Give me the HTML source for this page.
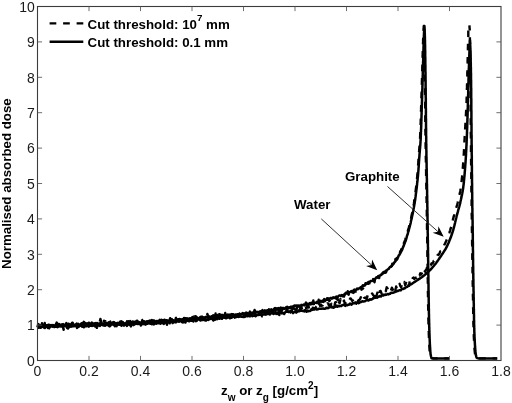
<!DOCTYPE html>
<html>
<head>
<meta charset="utf-8">
<title>Normalised absorbed dose</title>
<style>
html,body{margin:0;padding:0;background:#fff;}
body{width:512px;height:403px;overflow:hidden;font-family:"Liberation Sans",sans-serif;}
svg{display:block;will-change:transform;opacity:0.999;}
text{font-family:"Liberation Sans",sans-serif;fill:#1a1a1a;}
.t{font-size:14px;}
.b{font-size:13.3px;font-weight:bold;fill:#000;}
</style>
</head>
<body>
<svg width="512" height="403" viewBox="0 0 512 403">
<rect width="512" height="403" fill="#fff"/>
<!-- curves -->
<g fill="none" stroke="#000" stroke-linejoin="round" stroke-linecap="butt">
<polyline stroke-width="2.4" stroke-dasharray="6.7 6.8" points="37.5,325.9 38.3,327.8 39.1,327.6 39.9,325.1 40.7,325.4 41.5,325.0 42.3,326.6 43.1,325.6 43.9,326.8 44.7,323.0 45.5,327.9 46.3,325.5 47.1,326.6 47.9,325.4 48.7,325.0 49.5,326.2 50.3,326.7 51.1,325.2 51.9,325.2 52.7,326.4 53.5,324.1 54.3,323.2 55.1,325.9 55.9,324.4 56.7,322.5 57.5,324.1 58.3,324.6 59.1,323.5 59.9,323.0 60.7,325.2 61.5,326.5 62.3,324.8 63.1,324.0 63.9,325.6 64.7,326.1 65.5,324.6 66.3,325.8 67.1,326.5 67.9,324.6 68.7,323.7 69.5,325.4 70.3,325.2 71.1,326.4 71.9,322.9 72.7,323.8 73.5,323.5 74.3,322.2 75.1,324.9 75.9,325.4 76.7,323.6 77.5,326.6 78.3,325.8 79.1,325.5 79.9,325.1 80.7,325.9 81.5,322.5 82.3,325.3 83.1,325.3 83.9,321.8 84.7,324.9 85.5,324.0 86.3,325.4 87.1,323.7 87.9,324.2 88.7,324.7 89.5,322.9 90.3,325.0 91.1,324.0 91.9,324.8 92.7,323.3 93.5,325.6 94.3,324.9 95.1,323.8 95.9,324.9 96.7,325.8 97.5,326.5 98.3,321.6 99.1,325.2 99.9,324.5 100.7,323.7 101.5,322.3 102.3,325.6 103.1,321.9 103.9,324.5 104.7,325.6 105.5,321.3 106.3,323.2 107.1,321.7 107.9,323.9 108.7,325.7 109.5,326.5 110.3,320.9 111.1,322.6 111.9,324.5 112.7,325.7 113.5,324.0 114.3,322.3 115.1,323.7 115.9,323.3 116.7,323.0 117.5,322.2 118.3,323.8 119.1,323.6 119.9,323.0 120.7,322.8 121.5,321.2 122.3,322.3 123.1,324.8 123.9,322.7 124.7,320.9 125.5,324.8 126.3,323.6 127.0,325.9 127.8,322.9 128.6,322.1 129.4,320.6 130.2,324.6 131.0,326.4 131.8,321.4 132.6,321.7 133.4,323.4 134.2,321.3 135.0,322.1 135.8,321.9 136.6,322.7 137.4,324.0 138.2,322.4 139.0,323.6 139.8,321.7 140.6,322.7 141.4,319.1 142.2,320.0 143.0,323.2 143.8,321.2 144.6,322.8 145.4,322.8 146.2,323.8 147.0,323.1 147.8,323.3 148.6,321.6 149.4,320.7 150.2,320.6 151.0,320.9 151.8,320.0 152.6,320.8 153.4,321.4 154.2,321.8 155.0,320.9 155.8,318.6 156.6,321.2 157.4,321.6 158.2,322.8 159.0,322.0 159.8,320.2 160.6,320.0 161.4,323.9 162.2,322.0 163.0,323.5 163.8,323.9 164.6,319.6 165.4,321.3 166.2,321.3 167.0,321.4 167.8,321.4 168.6,320.8 169.4,320.7 170.2,318.2 171.0,320.1 171.8,319.2 172.6,320.4 173.4,319.5 174.2,321.0 175.0,321.2 175.8,320.5 176.6,320.4 177.4,320.0 178.2,319.2 179.0,319.5 179.8,319.0 180.6,320.2 181.4,319.6 182.1,320.4 182.9,317.6 183.7,320.7 184.5,318.3 185.3,318.2 186.1,319.0 186.9,318.4 187.7,319.5 188.5,318.2 189.3,317.4 190.1,317.7 190.9,320.8 191.7,318.9 192.5,317.1 193.3,318.7 194.1,316.4 194.9,321.1 195.7,316.3 196.5,319.1 197.3,319.1 198.1,316.2 198.9,318.7 199.7,319.6 200.5,318.8 201.3,318.4 202.1,319.3 202.9,318.1 203.7,318.3 204.5,317.6 205.3,318.6 206.1,316.2 206.9,318.7 207.7,316.7 208.5,315.8 209.3,317.8 210.1,319.7 210.8,318.6 211.6,316.3 212.4,318.0 213.2,316.3 214.0,316.7 214.8,316.9 215.6,313.4 216.4,316.9 217.2,315.1 218.0,315.5 218.8,314.3 219.6,314.1 220.4,314.9 221.2,317.4 222.0,318.5 222.8,316.0 223.6,317.5 224.4,315.5 225.2,313.0 226.0,315.9 226.8,316.3 227.6,314.9 228.4,315.9 229.2,316.2 230.0,314.1 230.8,313.1 231.6,314.9 232.4,314.8 233.1,314.5 233.9,316.4 234.7,317.4 235.5,314.2 236.3,315.7 237.1,316.0 237.9,315.6 238.7,316.0 239.5,313.8 240.3,315.4 241.1,317.1 241.9,315.3 242.7,313.1 243.5,314.8 244.3,315.7 245.1,314.3 245.9,312.9 246.7,315.9 247.5,311.7 248.3,314.2 249.1,313.4 249.9,311.6 250.7,315.0 251.5,313.6 252.3,311.4 253.0,313.8 253.8,312.3 254.6,310.0 255.4,311.7 256.2,313.0 257.0,313.5 257.8,312.7 258.6,312.4 259.4,312.9 260.2,311.9 261.0,313.8 261.8,312.2 262.6,312.3 263.4,312.6 264.2,310.2 265.0,310.6 265.8,313.8 266.6,311.9 267.4,310.9 268.2,311.7 268.9,310.5 269.7,311.5 270.5,310.0 271.3,311.3 272.1,308.5 272.9,312.6 273.7,309.8 274.5,308.2 275.3,310.0 276.1,309.7 276.9,310.4 277.7,308.4 278.5,310.5 279.3,315.1 280.0,307.9 280.8,310.1 281.6,309.1 282.4,309.7 283.2,306.7 284.0,307.5 284.8,309.7 285.6,308.9 286.4,311.2 287.2,307.7 288.0,308.9 288.8,312.7 289.6,307.3 290.4,307.0 291.1,308.1 291.9,308.0 292.7,309.1 293.5,308.0 294.3,306.6 295.1,307.9 295.9,311.3 296.7,309.2 297.5,303.2 298.3,306.9 299.1,305.7 299.9,307.7 300.7,306.4 301.4,309.3 302.2,307.8 303.0,307.6 303.8,306.4 304.6,306.0 305.4,306.4 306.2,307.6 307.0,306.4 307.8,305.0 308.5,307.1 309.3,305.4 310.1,304.9 310.9,303.7 311.7,303.9 312.5,303.7 313.3,300.5 314.0,305.7 314.8,304.9 315.6,303.6 316.4,305.2 317.2,304.2 317.9,304.0 318.7,299.8 319.5,302.8 320.3,303.7 321.1,305.0 321.8,305.1 322.6,304.3 323.4,300.6 324.2,299.0 324.9,302.6 325.7,301.6 326.5,302.7 327.2,300.9 328.0,301.2 328.8,298.6 329.5,301.0 330.3,299.6 331.1,300.4 331.8,300.3 332.6,299.3 333.4,299.7 334.1,299.0 334.9,299.8 335.7,299.2 336.4,297.5 337.2,297.2 337.9,300.1 338.7,297.4 339.5,298.6 340.2,297.6 341.0,296.0 341.8,295.6 342.5,296.4 343.3,296.4 344.0,296.6 344.8,293.8 345.6,294.5 346.3,294.8 347.1,296.7 347.8,291.3 348.6,294.7 349.3,293.1 350.0,294.1 350.8,292.6 351.5,293.4 352.2,294.6 353.0,292.7 353.7,292.5 354.4,292.1 355.1,290.3 355.8,291.6 356.6,290.3 357.3,289.2 358.0,289.8 358.7,289.1 359.4,290.0 360.1,288.6 360.8,287.6 361.5,289.7 362.2,288.7 362.9,288.6 363.6,287.4 364.3,286.1 365.0,285.4 365.7,285.1 366.3,286.1 367.0,284.8 367.7,282.6 368.4,283.8 369.1,281.8 369.8,283.2 370.4,281.3 371.1,280.8 371.8,281.8 372.5,281.2 373.2,279.1 373.9,281.2 374.5,282.2 375.2,278.1 375.9,280.9 376.6,278.0 377.2,277.7 377.9,277.6 378.5,275.9 379.2,278.0 379.8,276.8 380.5,275.2 381.1,275.2 381.8,273.6 382.4,274.1 383.0,274.8 383.6,272.0 384.2,272.6 384.8,272.5 385.4,272.8 386.0,272.5 386.6,270.5 387.2,269.7 387.8,270.1 388.4,268.9 389.0,268.4 389.6,268.9 390.1,268.7 390.7,267.1 391.2,266.2 391.8,266.1 392.3,263.7 392.8,264.5 393.3,263.1 393.7,264.9 394.2,263.1 394.7,262.0 395.1,261.2 395.5,259.0 395.9,260.4 396.3,260.3 396.7,258.1 397.1,258.3 397.5,257.6 397.9,255.5 398.3,256.3 398.7,255.8 399.1,254.4 399.4,253.6 399.8,253.3 400.2,251.3 400.6,251.5 400.9,251.3 401.3,249.3 401.6,249.8 401.9,248.3 402.2,246.7 402.5,247.0 402.8,245.8 403.1,245.8 403.4,244.2 403.7,244.7 403.9,243.0 404.2,242.8 404.5,241.5 404.7,240.9 405.0,240.9 405.3,239.7 405.5,238.6 405.7,237.5 406.0,237.8 406.2,236.8 406.5,235.6 406.7,235.1 406.9,233.8 407.1,233.0 407.4,232.4 407.6,232.0 407.8,231.2 408.0,230.1 408.2,229.8 408.4,229.1 408.7,228.1 408.9,227.6 409.1,226.4 409.3,225.7 409.5,225.1 409.7,224.2 409.8,223.6 410.0,222.3 410.2,222.2 410.4,220.9 410.6,220.2 410.8,219.2 410.9,218.8 411.1,218.2 411.3,217.4 411.4,216.5 411.6,215.3 411.8,214.7 411.9,214.0 412.1,213.1 412.3,212.6 412.4,211.7 412.6,210.9 412.7,210.2 412.9,209.2 413.0,208.4 413.2,207.7 413.3,207.0 413.5,206.2 413.6,205.4 413.7,204.7 413.9,203.7 414.0,203.0 414.1,202.2 414.2,201.4 414.4,200.6 414.5,199.9 414.6,199.1 414.7,198.3 414.8,197.5 414.9,196.7 415.0,195.9 415.1,195.1 415.2,194.3 415.3,193.5 415.4,192.7 415.5,191.9 415.6,191.1 415.7,190.3 415.8,189.5 415.9,188.7 416.0,187.9 416.1,187.2 416.2,186.4 416.3,185.6 416.4,184.8 416.5,184.0 416.5,183.2 416.6,182.4 416.7,181.6 416.8,180.8 416.9,180.0 417.0,179.2 417.0,178.4 417.1,177.6 417.2,176.8 417.3,176.0 417.3,175.2 417.4,174.4 417.5,173.6 417.6,172.8 417.6,172.0 417.7,171.2 417.8,170.4 417.8,169.6 417.9,168.8 417.9,168.0 418.0,167.2 418.0,166.4 418.1,165.6 418.1,164.9 418.2,164.1 418.3,163.3 418.3,162.5 418.4,161.7 418.4,160.9 418.5,160.1 418.5,159.3 418.6,158.5 418.6,157.7 418.7,156.9 418.7,156.1 418.8,155.3 418.9,154.5 418.9,153.7 419.0,152.9 419.0,152.1 419.1,151.3 419.2,150.5 419.2,149.7 419.3,148.9 419.4,148.1 419.4,147.3 419.5,146.5 419.6,145.7 419.6,144.9 419.7,144.1 419.8,143.3 419.8,142.5 419.9,141.7 419.9,140.9 419.9,140.1 420.0,139.3 420.0,138.5 420.1,137.7 420.1,136.9 420.1,136.1 420.2,135.3 420.2,134.5 420.2,133.7 420.3,132.9 420.3,132.1 420.3,131.3 420.4,130.5 420.4,129.7 420.4,128.9 420.5,128.1 420.5,127.3 420.5,126.5 420.5,125.7 420.6,124.9 420.6,124.1 420.6,123.3 420.7,122.5 420.7,121.7 420.7,120.9 420.7,120.1 420.8,119.3 420.8,118.5 420.8,117.7 420.8,116.9 420.9,116.1 420.9,115.3 420.9,114.5 420.9,113.7 421.0,112.9 421.0,112.1 421.0,111.3 421.0,110.5 421.1,109.7 421.1,108.9 421.1,108.1 421.1,107.3 421.1,106.5 421.2,105.7 421.2,104.9 421.2,104.1 421.2,103.3 421.3,102.5 421.3,101.7 421.3,100.9 421.3,100.1 421.4,99.3 421.4,98.5 421.4,97.7 421.4,96.9 421.5,96.1 421.5,95.3 421.5,94.5 421.5,93.7 421.6,92.9 421.6,92.1 421.6,91.3 421.6,90.5 421.7,89.7 421.7,88.9 421.7,88.1 421.7,87.3 421.8,86.5 421.8,85.7 421.8,84.9 421.8,84.1 421.9,83.3 421.9,82.5 421.9,81.7 421.9,80.9 422.0,80.1 422.0,79.3 422.0,78.5 422.0,77.7 422.0,76.9 422.1,76.2 422.1,75.4 422.1,74.6 422.1,73.8 422.2,73.0 422.2,72.2 422.2,71.4 422.2,70.6 422.3,69.8 422.3,69.0 422.3,68.2 422.3,67.4 422.3,66.6 422.4,65.8 422.4,65.0 422.4,64.2 422.4,63.4 422.5,62.6 422.5,61.8 422.5,61.0 422.5,60.2 422.5,59.4 422.6,58.6 422.6,57.8 422.6,57.0 422.6,56.2 422.6,55.4 422.7,54.6 422.7,53.8 422.7,53.0 422.7,52.2 422.8,51.4 422.8,50.6 422.8,49.8 422.8,49.0 422.9,48.2 422.9,47.4 422.9,46.6 422.9,45.8 423.0,45.0 423.0,44.2 423.0,43.4 423.0,42.6 423.1,41.8 423.1,41.0 423.1,40.2 423.1,39.4 423.2,38.6 423.2,37.8 423.2,37.0 423.2,36.2 423.3,35.4 423.3,34.6 423.3,33.8 423.4,33.0 423.4,32.2 423.4,31.4 423.5,30.6 423.5,29.8 423.6,29.0 423.6,28.2 423.7,27.4 423.7,26.6 423.8,25.9 423.8,26.7 423.9,27.5 423.9,28.3 424.0,29.1 424.0,29.9 424.0,30.7 424.1,31.5 424.1,32.3 424.1,33.1 424.1,33.9 424.2,34.7 424.2,35.5 424.2,36.3 424.2,37.1 424.2,37.9 424.3,38.7 424.3,39.5 424.3,40.3 424.3,41.1 424.3,41.9 424.4,42.7 424.4,43.5 424.4,44.3 424.4,45.1 424.4,45.9 424.4,46.7 424.5,47.5 424.5,48.3 424.5,49.1 424.5,49.9 424.5,50.7 424.5,51.5 424.5,52.3 424.5,53.1 424.6,53.9 424.6,54.7 424.6,55.5 424.6,56.3 424.6,57.1 424.6,57.9 424.6,58.7 424.6,59.5 424.6,60.3 424.7,61.1 424.7,61.9 424.7,62.7 424.7,63.5 424.7,64.3 424.7,65.1 424.7,65.9 424.7,66.7 424.7,67.5 424.7,68.3 424.8,69.1 424.8,69.9 424.8,70.7 424.8,71.5 424.8,72.3 424.8,73.1 424.8,73.9 424.8,74.7 424.8,75.5 424.9,76.3 424.9,77.1 424.9,77.9 424.9,78.7 424.9,79.5 424.9,80.3 424.9,81.1 424.9,81.9 424.9,82.7 424.9,83.5 425.0,84.3 425.0,85.1 425.0,85.9 425.0,86.7 425.0,87.5 425.0,88.3 425.0,89.1 425.0,89.9 425.0,90.7 425.0,91.5 425.0,92.3 425.1,93.1 425.1,93.9 425.1,94.7 425.1,95.5 425.1,96.3 425.1,97.1 425.1,97.9 425.1,98.7 425.1,99.5 425.1,100.3 425.1,101.1 425.1,101.9 425.2,102.7 425.2,103.5 425.2,104.3 425.2,105.1 425.2,105.9 425.2,106.7 425.2,107.5 425.2,108.3 425.2,109.1 425.2,109.9 425.2,110.7 425.2,111.5 425.2,112.3 425.3,113.1 425.3,113.9 425.3,114.7 425.3,115.5 425.3,116.3 425.3,117.1 425.3,117.9 425.3,118.7 425.3,119.5 425.3,120.3 425.3,121.1 425.3,121.9 425.3,122.7 425.4,123.5 425.4,124.3 425.4,125.1 425.4,125.9 425.4,126.7 425.4,127.5 425.4,128.3 425.4,129.1 425.4,129.9 425.4,130.7 425.4,131.5 425.5,132.3 425.5,133.1 425.5,133.9 425.5,134.7 425.5,135.5 425.5,136.3 425.5,137.1 425.5,137.9 425.5,138.7 425.5,139.5 425.6,140.3 425.6,141.1 425.6,141.9 425.6,142.7 425.6,143.5 425.6,144.3 425.6,145.1 425.6,145.9 425.6,146.7 425.7,147.5 425.7,148.3 425.7,149.1 425.7,149.9 425.7,150.7 425.7,151.5 425.7,152.3 425.7,153.1 425.8,153.9 425.8,154.7 425.8,155.5 425.8,156.3 425.8,157.1 425.8,157.9 425.8,158.7 425.9,159.5 425.9,160.3 425.9,161.1 425.9,161.9 425.9,162.7 425.9,163.5 425.9,164.3 426.0,165.1 426.0,165.9 426.0,166.7 426.0,167.5 426.0,168.3 426.0,169.1 426.0,169.9 426.1,170.7 426.1,171.5 426.1,172.3 426.1,173.1 426.1,173.9 426.1,174.7 426.1,175.5 426.2,176.3 426.2,177.1 426.2,177.9 426.2,178.7 426.2,179.5 426.2,180.3 426.2,181.1 426.3,181.9 426.3,182.7 426.3,183.5 426.3,184.3 426.3,185.1 426.3,185.9 426.4,186.7 426.4,187.5 426.4,188.3 426.4,189.1 426.4,189.9 426.4,190.7 426.4,191.5 426.5,192.3 426.5,193.1 426.5,193.9 426.5,194.7 426.5,195.5 426.5,196.3 426.5,197.1 426.5,197.9 426.6,198.7 426.6,199.5 426.6,200.3 426.6,201.1 426.6,201.9 426.6,202.7 426.6,203.5 426.7,204.3 426.7,205.1 426.7,205.9 426.7,206.7 426.7,207.5 426.7,208.3 426.7,209.1 426.7,209.9 426.8,210.7 426.8,211.5 426.8,212.3 426.8,213.1 426.8,213.9 426.8,214.7 426.8,215.5 426.8,216.3 426.9,217.1 426.9,217.9 426.9,218.7 426.9,219.5 426.9,220.3 426.9,221.1 426.9,221.9 426.9,222.7 427.0,223.5 427.0,224.3 427.0,225.1 427.0,225.9 427.0,226.7 427.0,227.5 427.0,228.3 427.0,229.1 427.1,229.9 427.1,230.7 427.1,231.5 427.1,232.3 427.1,233.1 427.1,233.9 427.1,234.7 427.1,235.5 427.1,236.3 427.2,237.1 427.2,237.9 427.2,238.7 427.2,239.5 427.2,240.3 427.2,241.1 427.2,241.9 427.2,242.7 427.3,243.5 427.3,244.3 427.3,245.1 427.3,245.9 427.3,246.7 427.3,247.5 427.3,248.3 427.3,249.1 427.3,249.9 427.4,250.7 427.4,251.5 427.4,252.3 427.4,253.1 427.4,253.9 427.4,254.7 427.4,255.5 427.4,256.3 427.5,257.1 427.5,257.9 427.5,258.7 427.5,259.5 427.5,260.3 427.5,261.1 427.5,261.9 427.5,262.7 427.5,263.5 427.6,264.3 427.6,265.1 427.6,265.9 427.6,266.7 427.6,267.5 427.6,268.3 427.6,269.1 427.6,269.9 427.6,270.7 427.7,271.5 427.7,272.3 427.7,273.1 427.7,273.9 427.7,274.7 427.7,275.5 427.7,276.3 427.7,277.1 427.7,277.9 427.7,278.7 427.8,279.5 427.8,280.3 427.8,281.1 427.8,281.9 427.8,282.7 427.8,283.5 427.8,284.3 427.8,285.1 427.8,285.9 427.9,286.7 427.9,287.5 427.9,288.3 427.9,289.1 427.9,289.9 427.9,290.7 427.9,291.5 427.9,292.3 427.9,293.1 428.0,293.9 428.0,294.7 428.0,295.5 428.0,296.3 428.0,297.1 428.0,297.9 428.0,298.7 428.0,299.5 428.1,300.3 428.1,301.1 428.1,301.9 428.1,302.7 428.1,303.5 428.1,304.3 428.1,305.1 428.1,305.9 428.2,306.7 428.2,307.5 428.2,308.3 428.2,309.1 428.2,309.9 428.2,310.7 428.2,311.5 428.3,312.3 428.3,313.1 428.3,313.9 428.3,314.7 428.3,315.5 428.3,316.3 428.4,317.1 428.4,317.9 428.4,318.7 428.4,319.5 428.4,320.3 428.5,321.1 428.5,321.9 428.5,322.7 428.5,323.5 428.5,324.3 428.6,325.1 428.6,325.9 428.6,326.7 428.6,327.5 428.6,328.3 428.7,329.1 428.7,329.9 428.7,330.7 428.7,331.5 428.8,332.3 428.8,333.1 428.8,333.9 428.8,334.7 428.9,335.5 428.9,336.3 428.9,337.1 429.0,337.9 429.0,338.7 429.0,339.5 429.0,340.3 429.1,341.1 429.1,341.9 429.2,342.7 429.2,343.5 429.2,344.2 429.3,345.0 429.3,345.8 429.4,346.6 429.4,347.4 429.5,348.2 429.5,349.0 429.6,349.8 429.6,350.6 429.7,351.4 429.7,352.2 429.8,353.0 429.9,353.8 430.0,354.6 430.1,355.4 430.3,356.2 430.6,357.1 430.9,357.8 431.4,358.1 432.3,358.4 433.1,358.4 433.9,358.4 434.7,358.4 435.5,358.4 436.3,358.4 437.1,358.4 437.8,358.4 438.6,358.4 439.4,358.4 440.2,358.4 441.0,358.4 441.8,358.4 442.6,358.4 443.4,358.4 444.2,358.4 445.1,358.4 445.9,358.4 446.7,358.4 447.5,358.4 448.3,358.4 448.8,358.4"/>
<polyline stroke-width="2.4" stroke-dasharray="6.6 6.6" points="468.3,30.6 468.3,31.1 468.3,32.0 468.3,32.9 468.3,33.8 468.3,34.7 468.3,35.6 468.3,36.5 468.2,37.4 468.2,38.3 468.2,39.2 468.2,40.1 468.1,41.0 468.1,41.9 468.1,42.8 468.0,43.7 468.0,44.6 468.0,45.5 468.0,46.4 467.9,47.3 467.9,48.2 467.9,49.1 467.9,50.0 467.8,50.9 467.8,51.8 467.8,52.7 467.8,53.6 467.8,54.5 467.7,55.4 467.7,56.3 467.7,57.2 467.7,58.1 467.7,59.0 467.6,59.9 467.6,60.8 467.6,61.7 467.6,62.6 467.6,63.5 467.5,64.4 467.5,65.3 467.5,66.2 467.5,67.1 467.4,68.0 467.4,68.9 467.4,69.8 467.4,70.7 467.4,71.6 467.3,72.5 467.3,73.4 467.3,74.3 467.3,75.2 467.3,76.1 467.2,77.0 467.2,77.9 467.2,78.8 467.2,79.7 467.1,80.6 467.1,81.5 467.1,82.4 467.1,83.3 467.1,84.2 467.0,85.1 467.0,86.0 467.0,86.9 467.0,87.8 466.9,88.7 466.9,89.6 466.9,90.5 466.9,91.4 466.8,92.3 466.8,93.2 466.8,94.1 466.8,95.0 466.7,95.9 466.7,96.8 466.7,97.7 466.6,98.6 466.6,99.5 466.6,100.4 466.6,101.3 466.5,102.2 466.5,103.1 466.4,104.0 466.4,104.9 466.4,105.8 466.3,106.7 466.3,107.6 466.3,108.5 466.2,109.4 466.2,110.3 466.1,111.2 466.1,112.1 466.0,113.0 466.0,113.9 465.9,114.8 465.9,115.7 465.8,116.6 465.8,117.5 465.7,118.4 465.7,119.3 465.6,120.2 465.6,121.1 465.5,122.0 465.5,122.9 465.4,123.8 465.4,124.7 465.3,125.6 465.3,126.5 465.2,127.4 465.2,128.3 465.1,129.2 465.1,130.1 465.0,131.0 465.0,131.9 464.9,132.8 464.9,133.7 464.8,134.6 464.8,135.5 464.7,136.3 464.7,137.2 464.6,138.1 464.6,139.0 464.5,139.9 464.5,140.8 464.4,141.7 464.4,142.6 464.4,143.5 464.3,144.4 464.3,145.3 464.2,146.2 464.2,147.1 464.1,148.0 464.1,148.9 464.0,149.8 464.0,150.7 463.9,151.6 463.9,152.5 463.8,153.4 463.8,154.3 463.7,155.2 463.7,156.1 463.6,157.0 463.5,157.9 463.5,158.8 463.4,159.7 463.4,160.6 463.3,161.5 463.2,162.4 463.2,163.3 463.1,164.2 463.0,165.1 463.0,166.0 462.9,166.9 462.8,167.8 462.8,168.7 462.7,169.6 462.6,170.5 462.5,171.4 462.5,172.3 462.4,173.2 462.3,174.1 462.2,175.0 462.1,175.9 462.1,176.8 462.0,177.7 461.9,178.5 461.8,179.4 461.7,180.3 461.6,181.2 461.5,182.1 461.4,183.0 461.3,183.9 461.2,184.8 461.1,185.7 461.0,186.6 460.8,187.5 460.7,188.4 460.6,189.3 460.4,190.2 460.2,191.0 460.1,191.9 459.9,192.8 459.7,193.7 459.5,194.6 459.3,195.4 459.1,196.3 458.9,197.2 458.7,198.1 458.5,199.0 458.3,199.8 458.1,200.7 457.9,201.6 457.7,202.5 457.5,203.3 457.2,204.2 457.0,205.1 456.8,205.9 456.5,206.8 456.3,207.7 456.0,208.5 455.8,209.4 455.5,210.3 455.3,211.1 455.0,212.0 454.7,212.8 454.5,213.7 454.3,214.6 454.0,215.4 453.8,216.3 453.6,217.2 453.3,218.1 453.1,218.9 452.9,219.8 452.7,220.7 452.5,221.5 452.2,222.4 452.0,223.3 451.8,224.2 451.6,225.0 451.4,225.9 451.2,226.8 450.9,227.7 450.7,228.5 450.4,229.4 450.2,230.3 449.9,231.1 449.6,232.0 449.4,232.8 449.1,233.7 448.8,234.5 448.5,235.4 448.1,236.2 447.8,237.1 447.5,237.9 447.2,238.7 446.8,239.6 446.5,240.4 446.1,241.2 445.7,242.0 445.4,242.9 445.0,243.6 444.6,244.4 444.2,245.1 443.8,246.4 443.3,246.6 442.9,247.3 442.4,248.3 442.0,249.2 441.5,250.4 441.0,250.9 440.4,251.2 439.9,252.3 439.4,253.7 438.9,254.5 438.4,255.0 437.9,254.7 437.4,255.4 436.9,257.0 436.4,256.9 435.9,258.1 435.4,258.8 434.8,259.8 434.3,260.4 433.7,260.7 433.2,262.5 432.6,263.4 432.0,263.1 431.5,263.5 430.9,265.2 430.3,265.0 429.7,266.5 429.1,266.9 428.5,268.1 427.8,266.7 427.2,266.5 426.6,269.5 425.9,269.9 425.3,271.8 424.6,271.5 423.9,273.0 423.2,271.9 422.5,275.1 421.8,273.4 421.0,274.5 420.3,273.2 419.6,275.5 418.8,275.2 418.1,277.1 417.3,275.5 416.6,277.7 415.8,277.7 415.1,278.0 414.3,279.1 413.6,277.6 412.8,278.0 412.0,280.1 411.3,280.9 410.5,279.1 409.8,280.5 409.0,285.8 408.2,281.0 407.5,283.8 406.7,283.0 405.9,283.4 405.2,285.3 404.4,282.0 403.6,283.8 402.8,284.5 402.0,283.1 401.2,287.3 400.4,286.1 399.6,283.8 398.7,286.8 397.9,287.5 397.0,289.3 396.2,286.5 395.3,290.4 394.5,289.6 393.6,286.1 392.8,289.8 391.9,287.7 391.0,290.2 390.2,291.7 389.3,291.0 388.4,291.9 387.6,288.4 386.7,287.3 385.8,291.2 385.0,289.1 384.1,290.5 383.2,291.9 382.4,293.6 381.5,293.4 380.6,290.9 379.8,291.3 378.9,295.1 378.1,291.3 377.2,293.3 376.4,296.4 375.5,292.4 374.6,297.4 373.8,295.8 372.9,294.7 372.1,293.4 371.2,296.2 370.3,296.0 369.5,296.1 368.6,295.0 367.8,294.8 366.9,298.1 366.0,298.2 365.1,297.5 364.3,297.8 363.4,294.9 362.5,296.4 361.6,298.5 360.8,297.2 359.9,299.5 359.0,300.4 358.1,300.2 357.3,299.6 356.4,298.4 355.5,299.4 354.6,298.8 353.7,301.1 352.9,300.4 352.0,300.8 351.1,298.9 350.2,298.4 349.3,300.7 348.4,299.8 347.6,301.8 346.7,301.3 345.8,302.0 344.9,303.7 344.0,300.6 343.1,302.4 342.2,302.2 341.4,303.0 340.5,298.9 339.6,303.2 338.7,301.6 337.8,302.8 336.9,305.5 336.0,302.1 335.1,302.6 334.3,307.3 333.4,303.8 332.5,304.9 331.6,303.7 330.7,304.6 329.8,304.6 328.9,305.3 328.1,303.5 327.2,303.4 326.3,305.2 325.4,305.7 324.5,304.5 323.6,303.9 322.7,305.4 321.9,305.8 321.0,304.6 320.1,305.9 319.2,302.3 318.3,304.8 317.4,305.6 316.5,306.4 315.6,307.7 314.7,308.6 313.8,308.3 313.0,307.7 312.1,308.0 311.2,307.2 310.3,310.5 309.4,310.3 308.5,306.2 307.6,306.8 306.7,307.3 305.8,309.9 304.9,308.2 304.0,309.3 303.1,310.3 302.2,309.3 301.3,307.1 300.4,308.9 299.6,309.9 298.7,307.0 297.8,307.0 296.9,310.2 296.0,311.1 295.1,309.3 294.2,308.3 293.3,308.3 292.4,309.4 291.5,311.0 290.6,311.9 289.7,310.0 288.8,312.0 287.9,311.4 287.0,309.2 286.1,308.1 285.2,308.5 284.3,311.7 283.5,311.4 282.6,310.4 281.7,311.9 280.8,312.6 279.9,311.3 279.0,309.7 278.1,311.7 277.2,313.3 276.3,308.4 275.4,311.1 274.5,310.2 273.6,311.5 272.7,310.0 271.8,310.3 270.9,309.0 270.0,310.2 269.1,313.1 268.3,311.9 267.4,312.3 266.5,313.2 265.6,312.2 264.7,312.4 263.8,314.4 262.9,315.2 262.0,316.4 261.1,313.4 260.2,314.6 259.3,313.3 258.4,315.8 257.5,315.6 256.6,313.9 255.7,312.6 254.8,314.3 253.9,312.5 253.1,313.0 252.2,313.4 251.3,312.5 250.4,313.7 249.5,313.8 248.6,313.6 247.7,313.9 246.8,315.7 245.9,316.0 245.0,316.1 244.1,315.9 243.2,313.7 242.3,316.8 241.4,314.7 240.5,315.7 239.6,315.3 238.7,317.0 237.8,316.3 236.9,316.0 236.0,317.2 235.2,317.6 234.3,318.0 233.4,315.9 232.5,313.3 231.6,314.8 230.7,315.4 229.8,316.2 228.9,314.9 228.0,316.2 227.1,319.4 226.2,316.8 225.3,314.5 224.4,315.3 223.5,316.1 222.6,317.8 221.7,319.4 220.8,315.8 219.9,318.0 219.0,316.6 218.1,316.5 217.2,314.9 216.3,316.0 215.4,314.8 214.5,319.8 213.6,316.9 212.7,316.0 211.8,318.0 210.9,320.0 210.0,319.2 209.1,320.5 208.2,317.6 207.4,314.0 206.5,319.9 205.6,317.8 204.7,319.6 203.8,318.7 202.9,317.4 202.0,318.9 201.1,319.0 200.2,319.1 199.3,320.2 198.4,319.7 197.5,318.2 196.6,316.9 195.7,321.1 194.8,321.2 193.9,320.5 193.0,319.0 192.1,316.5 191.2,320.8 190.3,319.7 189.4,318.8 188.5,317.7 187.6,318.5 186.7,317.5 185.8,319.5 184.9,318.3 184.0,317.9 183.1,320.0 182.2,319.4 181.3,322.1 180.4,320.3 179.5,320.8 178.6,320.1 177.7,320.9 176.8,321.4 175.9,317.8 175.0,322.0 174.1,320.1 173.2,321.6 172.3,321.0 171.5,320.3 170.6,320.3 169.7,323.3 168.8,321.1 167.9,319.3 167.0,324.9 166.1,322.2 165.2,319.3 164.3,321.4 163.4,321.9 162.5,320.7 161.6,319.7 160.7,322.2 159.8,323.3 158.9,323.4 158.0,321.7 157.1,321.7 156.2,322.1 155.3,322.3 154.4,323.2 153.5,324.3 152.6,323.0 151.7,320.9 150.8,323.6 149.9,321.5 149.0,324.3 148.1,321.7 147.2,321.5 146.3,324.2 145.4,325.2 144.5,322.6 143.6,321.8 142.7,323.4 141.8,323.4 140.9,325.6 140.0,323.1 139.1,325.7 138.2,322.4 137.3,320.6 136.4,320.9 135.5,323.1 134.6,322.4 133.7,324.0 132.8,322.4 131.9,322.9 131.0,323.3 130.1,322.8 129.2,324.9 128.3,321.1 127.4,322.3 126.5,324.0 125.6,322.8 124.7,321.5 123.8,322.5 122.9,322.2 122.0,323.0 121.1,323.3 120.2,321.6 119.3,324.3 118.4,325.0 117.5,322.8 116.6,326.2 115.7,324.8 114.8,326.3 113.9,322.5 113.0,325.7 112.1,323.3 111.2,323.8 110.3,321.6 109.4,324.8 108.5,324.0 107.6,323.6 106.7,323.7 105.8,323.4 104.9,325.2 104.0,320.6 103.1,323.1 102.2,325.1 101.3,322.6 100.4,318.9 99.6,322.4 98.7,323.7 97.8,324.4 96.9,327.9 96.0,326.1 95.1,326.4 94.2,323.3 93.3,324.6 92.4,325.9 91.5,324.7 90.6,325.7 89.7,325.0 88.8,326.2 87.9,324.1 87.0,325.4 86.1,322.5 85.2,323.2 84.3,322.7 83.4,325.4 82.5,324.5 81.6,323.2 80.7,326.7 79.8,324.8 78.9,323.5 78.0,327.0 77.1,328.0 76.2,325.4 75.3,325.8 74.4,324.1 73.5,326.9 72.6,322.6 71.7,324.6 70.8,325.5 69.9,326.3 69.0,323.8 68.1,328.5 67.2,328.2 66.3,325.0 65.4,323.3 64.5,324.3 63.6,329.8 62.7,325.7 61.8,324.7 60.9,327.7 60.0,325.9 59.1,323.9 58.2,326.0 57.3,325.0 56.4,325.4 55.5,325.5 54.6,326.4 53.7,325.6 52.8,325.3 51.9,325.0 51.0,325.8 50.1,325.3 49.2,328.3 48.3,325.7 47.4,325.4 46.5,326.7 45.6,327.5 44.7,327.5 43.8,327.2 42.9,327.7 42.0,323.3 41.1,327.0 40.2,323.1 39.3,326.4 38.4,326.8 37.5,327.3"/>
<polyline stroke-width="2.4" stroke-dasharray="6.7 6.8" stroke-dashoffset="1.5" points="469.4,25.4 469.5,26.3 469.5,27.2 469.6,28.1 469.7,29.0 469.7,29.9 469.7,30.8 469.7,31.7 469.8,32.6 469.8,33.5 469.8,34.4 469.8,35.3 469.8,36.2 469.9,37.1 469.9,38.0 469.9,38.9 469.9,39.8 469.9,40.7 469.9,41.6 470.0,42.5 470.0,43.4 470.0,44.3 470.0,45.2 470.0,46.1 470.0,47.0 470.0,47.9 470.0,48.8 470.1,49.7 470.1,50.6 470.1,51.5 470.1,52.4 470.1,53.3 470.1,54.2 470.1,55.1 470.1,56.0 470.1,56.9 470.1,57.8 470.1,58.7 470.2,59.6 470.2,60.5 470.2,61.4 470.2,62.3 470.2,63.2 470.2,64.1 470.2,65.0 470.2,65.9 470.2,66.8 470.2,67.7 470.2,68.6 470.2,69.5 470.2,70.4 470.3,71.3 470.3,72.2 470.3,73.1 470.3,74.0 470.3,74.9 470.3,75.8 470.3,76.7 470.3,77.6 470.3,78.5 470.3,79.4 470.3,80.3 470.4,81.2 470.4,82.1 470.4,83.0 470.4,83.9 470.4,84.8 470.4,85.7 470.4,86.6 470.4,87.5 470.4,88.4 470.4,89.3 470.4,90.2 470.5,91.1 470.5,92.0 470.5,92.9 470.5,93.8 470.5,94.7 470.5,95.6 470.5,96.5 470.5,97.4 470.5,98.3 470.5,99.2 470.5,100.1 470.5,101.0 470.6,101.9 470.6,102.8 470.6,103.7 470.6,104.6 470.6,105.5 470.6,106.4 470.6,107.3 470.6,108.2 470.6,109.1 470.6,110.0 470.6,110.9 470.6,111.8 470.6,112.7 470.7,113.6 470.7,114.5 470.7,115.4 470.7,116.3 470.7,117.2 470.7,118.1 470.7,119.0 470.7,119.9 470.7,120.8 470.7,121.7 470.7,122.6 470.7,123.5 470.8,124.4 470.8,125.3 470.8,126.2 470.8,127.1 470.8,128.0 470.8,128.9 470.8,129.8 470.8,130.7 470.8,131.6 470.8,132.5 470.8,133.4 470.8,134.3 470.9,135.2 470.9,136.1 470.9,137.0 470.9,137.9 470.9,138.8 470.9,139.7 470.9,140.6 470.9,141.5 470.9,142.4 470.9,143.3 470.9,144.2 471.0,145.1 471.0,146.0 471.0,146.9 471.0,147.8 471.0,148.7 471.0,149.6 471.0,150.5 471.0,151.4 471.0,152.3 471.0,153.2 471.0,154.1 471.1,155.0 471.1,155.9 471.1,156.8 471.1,157.7 471.1,158.6 471.1,159.5 471.1,160.4 471.1,161.3 471.1,162.2 471.1,163.1 471.1,164.0 471.2,164.9 471.2,165.8 471.2,166.7 471.2,167.6 471.2,168.5 471.2,169.4 471.2,170.3 471.2,171.2 471.2,172.1 471.2,173.0 471.3,173.9 471.3,174.8 471.3,175.7 471.3,176.6 471.3,177.5 471.3,178.4 471.3,179.3 471.3,180.2 471.3,181.1 471.3,182.0 471.4,182.9 471.4,183.8 471.4,184.7 471.4,185.6 471.4,186.5 471.4,187.4 471.4,188.3 471.4,189.2 471.4,190.1 471.4,191.0 471.5,191.9 471.5,192.8 471.5,193.7 471.5,194.6 471.5,195.5 471.5,196.4 471.5,197.3 471.5,198.2 471.5,199.1 471.6,200.0 471.6,200.9 471.6,201.8 471.6,202.7 471.6,203.6 471.6,204.5 471.6,205.4 471.6,206.3 471.6,207.2 471.7,208.1 471.7,209.0 471.7,209.9 471.7,210.8 471.7,211.7 471.7,212.6 471.7,213.5 471.7,214.4 471.7,215.3 471.8,216.2 471.8,217.1 471.8,218.0 471.8,218.9 471.8,219.8 471.8,220.7 471.8,221.6 471.8,222.5 471.8,223.4 471.9,224.3 471.9,225.2 471.9,226.1 471.9,227.0 471.9,227.9 471.9,228.8 471.9,229.7 471.9,230.6 472.0,231.5 472.0,232.4 472.0,233.3 472.0,234.2 472.0,235.1 472.0,236.0 472.0,236.9 472.0,237.8 472.1,238.7 472.1,239.6 472.1,240.5 472.1,241.4 472.1,242.3 472.1,243.2 472.1,244.1 472.2,245.0 472.2,245.9 472.2,246.8 472.2,247.7 472.2,248.6 472.2,249.5 472.2,250.4 472.2,251.3 472.3,252.2 472.3,253.1 472.3,254.0 472.3,254.9 472.3,255.8 472.3,256.7 472.3,257.6 472.3,258.5 472.4,259.4 472.4,260.3 472.4,261.2 472.4,262.1 472.4,263.0 472.4,263.9 472.4,264.8 472.5,265.7 472.5,266.6 472.5,267.5 472.5,268.4 472.5,269.3 472.5,270.2 472.5,271.1 472.5,272.0 472.6,272.9 472.6,273.8 472.6,274.7 472.6,275.6 472.6,276.5 472.6,277.4 472.6,278.3 472.7,279.2 472.7,280.1 472.7,281.0 472.7,281.9 472.7,282.8 472.7,283.7 472.7,284.6 472.8,285.5 472.8,286.4 472.8,287.3 472.8,288.2 472.8,289.1 472.8,290.0 472.8,290.9 472.9,291.8 472.9,292.7 472.9,293.6 472.9,294.5 472.9,295.4 472.9,296.3 473.0,297.2 473.0,298.1 473.0,299.0 473.0,299.9 473.0,300.8 473.0,301.7 473.0,302.6 473.1,303.5 473.1,304.4 473.1,305.3 473.1,306.2 473.1,307.1 473.1,308.0 473.2,308.9 473.2,309.8 473.2,310.7 473.2,311.6 473.2,312.5 473.2,313.4 473.2,314.3 473.3,315.2 473.3,316.1 473.3,317.0 473.3,317.9 473.3,318.8 473.3,319.7 473.4,320.6 473.4,321.5 473.4,322.4 473.4,323.3 473.4,324.2 473.5,325.1 473.5,326.0 473.5,326.9 473.5,327.8 473.6,328.7 473.6,329.6 473.6,330.5 473.6,331.4 473.7,332.3 473.7,333.2 473.7,334.1 473.8,335.0 473.8,335.9 473.8,336.8 473.9,337.7 473.9,338.6 474.0,339.5 474.0,340.4 474.0,341.3 474.1,342.2 474.1,343.1 474.2,344.0 474.2,344.9 474.3,345.8 474.4,346.7 474.4,347.5 474.5,348.4 474.5,349.3 474.6,350.2 474.7,351.1 474.8,352.0 474.9,352.9 475.0,353.8 475.2,354.7 475.3,355.6 475.6,356.6 475.9,357.5 476.4,358.0 477.2,358.3 478.2,358.4 479.0,358.4 479.9,358.4 480.8,358.4 481.7,358.4 482.6,358.4 483.5,358.4 484.4,358.4 485.3,358.4 486.2,358.4 487.1,358.4 488.0,358.4 488.9,358.4 489.8,358.4 490.7,358.4 491.6,358.4 492.5,358.4 493.4,358.4 494.3,358.4 495.2,358.4 496.1,358.4 497.1,358.4 497.2,358.4"/>
<polyline stroke-width="2.5" points="37.5,326.9 38.3,324.1 39.1,325.9 39.9,325.3 40.7,325.3 41.5,325.4 42.3,324.3 43.1,325.4 43.9,325.0 44.7,327.5 45.5,325.6 46.3,325.2 47.1,325.2 47.9,325.0 48.7,324.7 49.5,325.1 50.3,325.6 51.1,325.1 51.9,325.8 52.7,325.1 53.5,325.2 54.3,326.1 55.1,325.5 55.9,324.8 56.7,325.0 57.5,325.4 58.3,326.2 59.1,324.9 59.9,324.8 60.7,325.6 61.5,324.4 62.3,324.7 63.1,325.4 63.9,325.2 64.7,324.9 65.5,325.2 66.3,323.1 67.1,325.4 67.9,324.1 68.7,323.7 69.5,324.8 70.3,325.1 71.1,324.3 71.9,323.9 72.7,324.6 73.5,324.5 74.3,325.4 75.1,324.9 75.9,324.6 76.7,325.1 77.5,324.3 78.3,323.8 79.1,324.7 79.9,324.7 80.7,324.2 81.5,323.8 82.3,324.4 83.1,322.7 83.9,324.6 84.7,324.4 85.5,323.1 86.3,324.1 87.1,323.5 87.9,324.5 88.7,322.8 89.5,323.4 90.3,324.4 91.1,324.6 91.9,322.6 92.7,323.6 93.5,324.0 94.3,323.4 95.1,324.7 95.9,323.0 96.7,323.9 97.5,323.1 98.3,324.5 99.1,323.6 99.9,323.4 100.7,322.6 101.5,324.6 102.3,324.0 103.1,324.0 103.9,324.2 104.7,323.7 105.5,323.0 106.3,322.9 107.1,322.9 107.9,324.2 108.7,322.4 109.5,322.9 110.3,323.1 111.1,323.4 111.9,323.5 112.7,322.4 113.5,322.1 114.3,323.1 115.1,323.8 115.9,323.5 116.7,323.1 117.5,322.8 118.3,323.1 119.1,322.8 119.9,323.4 120.7,322.4 121.5,322.9 122.3,322.7 123.1,323.1 123.9,322.9 124.7,324.2 125.4,323.6 126.2,323.5 127.0,321.4 127.8,322.4 128.6,322.2 129.4,322.8 130.2,321.1 131.0,323.1 131.8,323.0 132.6,321.6 133.4,321.7 134.2,321.8 135.0,322.3 135.8,322.6 136.6,323.4 137.4,322.0 138.2,322.6 139.0,322.1 139.8,323.1 140.6,322.4 141.4,322.7 142.2,321.2 143.0,321.7 143.8,321.3 144.6,322.7 145.4,322.1 146.2,321.5 147.0,321.4 147.8,321.9 148.6,321.1 149.4,320.9 150.2,321.7 151.0,322.9 151.8,321.2 152.6,321.0 153.4,320.5 154.2,320.4 155.0,321.5 155.8,321.6 156.6,321.1 157.4,321.2 158.2,321.0 159.0,321.0 159.8,319.9 160.6,320.5 161.4,320.8 162.2,320.2 163.0,320.3 163.8,320.1 164.6,320.3 165.4,321.0 166.2,320.2 167.0,320.3 167.8,320.8 168.6,320.6 169.4,321.2 170.2,318.9 171.0,320.6 171.8,319.7 172.6,320.0 173.4,320.4 174.2,320.5 175.0,320.4 175.8,319.8 176.6,320.6 177.4,319.5 178.2,319.5 179.0,320.0 179.8,319.1 180.5,320.7 181.3,319.9 182.1,320.6 182.9,319.2 183.7,318.9 184.5,319.2 185.3,319.5 186.1,318.6 186.9,319.1 187.7,318.8 188.5,319.8 189.3,318.3 190.1,319.3 190.9,318.2 191.7,318.0 192.5,318.0 193.3,317.7 194.1,318.4 194.9,318.9 195.7,318.3 196.5,318.5 197.3,319.1 198.1,318.2 198.9,318.1 199.7,317.7 200.5,316.9 201.3,318.2 202.1,316.6 202.9,318.0 203.7,317.5 204.5,318.2 205.3,317.4 206.1,316.8 206.9,317.5 207.7,316.9 208.5,317.0 209.3,317.1 210.1,316.9 210.9,316.8 211.6,316.3 212.4,316.7 213.2,315.4 214.0,316.5 214.8,315.8 215.6,317.1 216.4,317.2 217.2,315.2 218.0,316.3 218.8,316.1 219.6,315.5 220.4,316.3 221.2,315.7 222.0,314.8 222.8,315.6 223.6,315.6 224.4,315.7 225.2,314.8 226.0,315.8 226.8,315.8 227.6,314.6 228.4,314.8 229.2,315.1 230.0,314.7 230.8,316.0 231.6,315.0 232.3,314.2 233.1,314.3 233.9,314.6 234.7,315.9 235.5,314.4 236.3,314.5 237.1,314.6 237.9,314.2 238.7,315.5 239.5,313.7 240.3,314.4 241.1,314.0 241.9,314.1 242.7,313.0 243.5,314.7 244.3,313.4 245.1,313.4 245.9,312.8 246.7,312.8 247.5,313.5 248.2,313.6 249.0,313.4 249.8,313.6 250.6,313.2 251.4,312.7 252.2,313.0 253.0,312.8 253.8,312.3 254.6,312.7 255.4,312.9 256.2,312.2 257.0,311.7 257.8,312.3 258.6,312.9 259.4,311.5 260.2,311.5 260.9,311.3 261.7,312.0 262.5,310.1 263.3,311.3 264.1,311.7 264.9,310.4 265.7,311.7 266.5,311.0 267.3,310.2 268.1,310.6 268.9,309.4 269.7,309.9 270.5,311.2 271.3,309.4 272.0,311.0 272.8,309.7 273.6,310.2 274.4,309.6 275.2,308.1 276.0,309.0 276.8,309.3 277.6,308.4 278.4,308.1 279.2,309.0 280.0,308.3 280.7,307.6 281.5,308.1 282.3,308.9 283.1,307.9 283.9,308.7 284.7,308.9 285.5,307.9 286.3,307.1 287.1,306.8 287.9,307.5 288.7,307.9 289.5,307.4 290.2,307.5 291.0,306.7 291.8,307.1 292.6,306.5 293.4,306.4 294.2,305.7 295.0,305.4 295.8,306.0 296.6,305.4 297.4,305.4 298.2,306.2 298.9,305.6 299.7,307.3 300.5,306.0 301.3,304.9 302.1,305.6 302.9,305.2 303.7,304.5 304.5,305.4 305.3,304.1 306.0,302.6 306.8,304.8 307.6,303.8 308.4,304.9 309.2,303.5 310.0,303.0 310.8,304.5 311.5,302.8 312.3,303.4 313.1,304.0 313.9,303.0 314.7,302.7 315.5,302.7 316.2,302.9 317.0,301.8 317.8,302.5 318.6,302.3 319.3,303.1 320.1,301.4 320.9,300.8 321.7,301.6 322.5,300.8 323.2,301.0 324.0,300.7 324.8,301.1 325.5,299.8 326.3,299.9 327.1,298.2 327.9,299.0 328.6,300.2 329.4,298.7 330.2,298.4 330.9,297.9 331.7,298.7 332.5,298.2 333.2,297.2 334.0,298.0 334.7,297.5 335.5,297.6 336.3,296.5 337.0,297.7 337.8,296.7 338.6,296.1 339.3,295.6 340.1,295.5 340.8,295.9 341.6,295.0 342.4,295.5 343.1,295.0 343.9,295.1 344.6,294.6 345.4,293.8 346.2,292.6 346.9,293.5 347.7,293.5 348.4,292.8 349.1,292.8 349.9,291.9 350.6,291.7 351.4,291.1 352.1,291.9 352.8,291.0 353.5,290.4 354.3,289.6 355.0,289.9 355.7,290.3 356.4,289.5 357.1,288.5 357.8,289.2 358.5,288.8 359.3,288.2 360.0,287.7 360.7,287.5 361.4,286.8 362.1,286.5 362.8,285.4 363.5,286.1 364.2,285.1 364.9,285.5 365.5,283.3 366.2,284.1 366.9,283.8 367.6,282.8 368.3,282.8 369.0,282.5 369.7,282.0 370.4,281.2 371.1,280.9 371.8,281.0 372.5,280.7 373.2,279.8 373.9,279.4 374.6,279.0 375.3,279.0 376.0,277.7 376.6,277.2 377.3,277.3 378.0,276.4 378.7,276.2 379.3,276.0 380.0,275.7 380.7,274.7 381.3,274.9 382.0,273.5 382.6,273.9 383.2,272.6 383.8,272.3 384.5,272.5 385.1,271.6 385.7,270.9 386.3,270.5 386.9,270.3 387.5,269.6 388.1,269.1 388.7,268.9 389.3,267.7 389.9,267.3 390.5,266.7 391.0,266.7 391.6,266.0 392.1,265.5 392.6,264.5 393.2,263.9 393.7,263.6 394.2,262.6 394.6,262.3 395.1,261.7 395.6,260.6 396.1,260.1 396.5,259.4 397.0,259.3 397.4,258.9 397.8,257.4 398.3,256.8 398.7,255.4 399.1,255.4 399.5,254.7 399.9,253.7 400.3,253.5 400.7,252.1 401.0,251.8 401.4,251.2 401.7,250.1 402.1,249.9 402.4,249.3 402.7,247.9 403.0,247.2 403.3,246.9 403.6,246.0 403.9,245.0 404.2,244.5 404.4,243.8 404.7,243.0 405.0,242.5 405.2,241.6 405.5,241.2 405.8,240.3 406.0,239.4 406.3,238.7 406.5,238.0 406.7,237.1 407.0,235.9 407.2,235.6 407.4,234.7 407.7,234.2 407.9,233.1 408.1,232.4 408.3,231.6 408.6,231.1 408.8,230.1 409.0,229.2 409.2,228.5 409.4,227.7 409.6,227.0 409.8,226.2 410.0,225.4 410.2,224.9 410.4,223.8 410.6,223.1 410.8,222.3 410.9,221.6 411.1,220.6 411.3,219.9 411.5,219.2 411.7,218.5 411.8,217.6 412.0,216.8 412.2,215.9 412.3,215.3 412.5,214.6 412.7,213.7 412.8,212.9 413.0,212.2 413.1,211.2 413.3,210.5 413.4,209.7 413.6,209.0 413.7,208.2 413.9,207.3 414.0,206.7 414.2,206.0 414.3,205.0 414.4,204.3 414.6,203.5 414.7,202.7 414.8,201.8 414.9,201.2 415.1,200.3 415.2,199.6 415.3,198.7 415.4,197.9 415.5,197.1 415.6,196.4 415.7,195.5 415.8,194.7 415.9,193.9 416.0,193.1 416.1,192.5 416.2,191.6 416.3,190.8 416.4,190.1 416.5,189.1 416.6,188.4 416.7,187.7 416.8,186.9 416.9,185.9 417.0,185.1 417.1,184.4 417.1,183.7 417.2,182.8 417.3,182.0 417.4,181.3 417.5,180.4 417.6,179.7 417.6,178.9 417.7,178.1 417.8,177.3 417.9,176.5 418.0,175.7 418.0,174.9 418.1,174.1 418.2,173.4 418.2,172.5 418.3,171.6 418.4,170.9 418.4,170.1 418.5,169.3 418.5,168.5 418.6,167.7 418.7,166.9 418.7,166.1 418.8,165.3 418.8,164.5 418.9,163.7 418.9,162.9 419.0,162.1 419.0,161.3 419.1,160.5 419.1,159.7 419.2,158.9 419.2,158.1 419.3,157.3 419.4,156.5 419.4,155.7 419.5,154.9 419.5,154.1 419.6,153.3 419.7,152.5 419.7,151.7 419.8,150.9 419.9,150.1 419.9,149.3 420.0,148.6 420.1,147.8 420.1,147.0 420.2,146.2 420.3,145.4 420.3,144.6 420.4,143.8 420.4,143.0 420.5,142.2 420.5,141.4 420.6,140.6 420.6,139.8 420.7,139.0 420.7,138.2 420.7,137.4 420.8,136.6 420.8,135.8 420.8,135.0 420.9,134.2 420.9,133.4 420.9,132.6 421.0,131.8 421.0,131.0 421.0,130.2 421.1,129.4 421.1,128.6 421.1,127.8 421.2,127.0 421.2,126.2 421.2,125.4 421.2,124.6 421.3,123.8 421.3,123.0 421.3,122.2 421.3,121.4 421.4,120.6 421.4,119.8 421.4,119.0 421.4,118.2 421.5,117.4 421.5,116.6 421.5,115.8 421.5,115.0 421.6,114.2 421.6,113.4 421.6,112.6 421.6,111.8 421.7,111.0 421.7,110.2 421.7,109.4 421.7,108.6 421.8,107.8 421.8,107.0 421.8,106.2 421.8,105.4 421.9,104.6 421.9,103.8 421.9,103.0 421.9,102.2 422.0,101.4 422.0,100.6 422.0,99.8 422.0,99.0 422.1,98.2 422.1,97.4 422.1,96.6 422.1,95.8 422.2,95.0 422.2,94.2 422.2,93.4 422.2,92.6 422.3,91.8 422.3,91.0 422.3,90.2 422.3,89.4 422.4,88.6 422.4,87.8 422.4,87.0 422.4,86.2 422.5,85.4 422.5,84.6 422.5,83.8 422.5,83.0 422.5,82.2 422.6,81.4 422.6,80.6 422.6,79.8 422.6,79.0 422.7,78.2 422.7,77.4 422.7,76.6 422.7,75.8 422.8,75.0 422.8,74.2 422.8,73.4 422.8,72.6 422.8,71.8 422.9,71.0 422.9,70.2 422.9,69.4 422.9,68.6 423.0,67.8 423.0,67.0 423.0,66.2 423.0,65.4 423.1,64.6 423.1,63.8 423.1,63.0 423.1,62.2 423.1,61.4 423.2,60.6 423.2,59.8 423.2,59.0 423.2,58.2 423.2,57.4 423.3,56.6 423.3,55.8 423.3,55.0 423.3,54.2 423.4,53.4 423.4,52.6 423.4,51.8 423.4,51.0 423.4,50.2 423.5,49.4 423.5,48.6 423.5,47.8 423.5,47.0 423.6,46.2 423.6,45.4 423.6,44.6 423.6,43.8 423.7,43.0 423.7,42.2 423.7,41.4 423.7,40.6 423.8,39.8 423.8,39.0 423.8,38.2 423.8,37.4 423.9,36.6 423.9,35.8 423.9,35.0 424.0,34.2 424.0,33.4 424.0,32.6 424.1,31.8 424.1,31.0 424.1,30.2 424.2,29.4 424.2,28.6 424.3,27.8 424.3,27.0 424.4,26.2 424.4,25.9 424.5,26.7 424.5,27.5 424.6,28.3 424.6,29.1 424.7,29.9 424.7,30.7 424.7,31.5 424.7,32.3 424.8,33.1 424.8,33.9 424.8,34.7 424.8,35.5 424.9,36.3 424.9,37.1 424.9,37.9 424.9,38.7 424.9,39.5 425.0,40.3 425.0,41.1 425.0,41.9 425.0,42.7 425.0,43.5 425.0,44.3 425.1,45.1 425.1,45.9 425.1,46.7 425.1,47.5 425.1,48.3 425.1,49.1 425.1,49.9 425.2,50.7 425.2,51.5 425.2,52.3 425.2,53.1 425.2,53.9 425.2,54.7 425.2,55.5 425.2,56.3 425.3,57.1 425.3,57.9 425.3,58.7 425.3,59.5 425.3,60.3 425.3,61.1 425.3,61.9 425.3,62.7 425.3,63.5 425.3,64.3 425.4,65.1 425.4,65.9 425.4,66.7 425.4,67.5 425.4,68.3 425.4,69.1 425.4,69.9 425.4,70.7 425.4,71.5 425.5,72.3 425.5,73.1 425.5,73.9 425.5,74.7 425.5,75.5 425.5,76.3 425.5,77.1 425.5,77.9 425.5,78.7 425.5,79.5 425.6,80.3 425.6,81.1 425.6,81.9 425.6,82.7 425.6,83.5 425.6,84.3 425.6,85.1 425.6,85.9 425.6,86.7 425.6,87.5 425.7,88.3 425.7,89.1 425.7,89.9 425.7,90.7 425.7,91.5 425.7,92.3 425.7,93.1 425.7,93.9 425.7,94.7 425.7,95.5 425.7,96.3 425.7,97.1 425.8,97.9 425.8,98.7 425.8,99.5 425.8,100.3 425.8,101.1 425.8,101.9 425.8,102.7 425.8,103.5 425.8,104.3 425.8,105.1 425.8,105.9 425.8,106.7 425.8,107.5 425.9,108.3 425.9,109.1 425.9,109.9 425.9,110.7 425.9,111.5 425.9,112.3 425.9,113.1 425.9,113.9 425.9,114.7 425.9,115.5 425.9,116.3 425.9,117.1 425.9,117.9 426.0,118.7 426.0,119.5 426.0,120.3 426.0,121.1 426.0,121.9 426.0,122.7 426.0,123.5 426.0,124.3 426.0,125.1 426.0,125.9 426.0,126.7 426.0,127.5 426.1,128.3 426.1,129.1 426.1,129.9 426.1,130.7 426.1,131.5 426.1,132.3 426.1,133.1 426.1,133.9 426.1,134.7 426.1,135.5 426.2,136.3 426.2,137.1 426.2,137.9 426.2,138.7 426.2,139.5 426.2,140.3 426.2,141.1 426.2,141.9 426.2,142.7 426.2,143.5 426.3,144.3 426.3,145.1 426.3,145.9 426.3,146.7 426.3,147.5 426.3,148.3 426.3,149.1 426.3,149.9 426.4,150.7 426.4,151.5 426.4,152.3 426.4,153.1 426.4,153.9 426.4,154.7 426.4,155.5 426.4,156.3 426.5,157.1 426.5,157.9 426.5,158.7 426.5,159.5 426.5,160.3 426.5,161.1 426.5,161.9 426.6,162.7 426.6,163.5 426.6,164.3 426.6,165.1 426.6,165.9 426.6,166.7 426.6,167.5 426.7,168.3 426.7,169.1 426.7,169.9 426.7,170.7 426.7,171.5 426.7,172.3 426.7,173.1 426.8,173.9 426.8,174.7 426.8,175.5 426.8,176.3 426.8,177.1 426.8,177.9 426.9,178.7 426.9,179.5 426.9,180.3 426.9,181.1 426.9,181.9 426.9,182.7 426.9,183.5 427.0,184.3 427.0,185.1 427.0,185.9 427.0,186.7 427.0,187.5 427.0,188.3 427.0,189.1 427.1,189.9 427.1,190.7 427.1,191.5 427.1,192.3 427.1,193.1 427.1,193.9 427.1,194.7 427.2,195.5 427.2,196.3 427.2,197.1 427.2,197.9 427.2,198.7 427.2,199.5 427.2,200.3 427.3,201.1 427.3,201.9 427.3,202.7 427.3,203.5 427.3,204.3 427.3,205.1 427.3,205.9 427.3,206.7 427.4,207.5 427.4,208.3 427.4,209.1 427.4,209.9 427.4,210.7 427.4,211.5 427.4,212.3 427.4,213.1 427.5,213.9 427.5,214.7 427.5,215.5 427.5,216.3 427.5,217.1 427.5,217.9 427.5,218.7 427.5,219.5 427.6,220.3 427.6,221.1 427.6,221.9 427.6,222.7 427.6,223.5 427.6,224.3 427.6,225.1 427.6,225.9 427.7,226.7 427.7,227.5 427.7,228.3 427.7,229.1 427.7,229.9 427.7,230.7 427.7,231.5 427.7,232.3 427.7,233.1 427.8,233.9 427.8,234.7 427.8,235.5 427.8,236.3 427.8,237.1 427.8,237.9 427.8,238.7 427.8,239.5 427.9,240.3 427.9,241.1 427.9,241.9 427.9,242.7 427.9,243.5 427.9,244.3 427.9,245.1 427.9,245.9 427.9,246.7 428.0,247.5 428.0,248.3 428.0,249.1 428.0,249.9 428.0,250.7 428.0,251.5 428.0,252.3 428.0,253.1 428.1,253.9 428.1,254.7 428.1,255.5 428.1,256.3 428.1,257.1 428.1,257.9 428.1,258.7 428.1,259.5 428.1,260.3 428.2,261.1 428.2,261.9 428.2,262.7 428.2,263.5 428.2,264.3 428.2,265.1 428.2,265.9 428.2,266.7 428.2,267.5 428.3,268.3 428.3,269.1 428.3,269.9 428.3,270.7 428.3,271.5 428.3,272.3 428.3,273.1 428.3,273.9 428.3,274.7 428.4,275.5 428.4,276.3 428.4,277.1 428.4,277.9 428.4,278.7 428.4,279.5 428.4,280.3 428.4,281.1 428.4,281.9 428.4,282.7 428.5,283.5 428.5,284.3 428.5,285.1 428.5,285.9 428.5,286.7 428.5,287.5 428.5,288.3 428.5,289.1 428.5,289.9 428.6,290.7 428.6,291.5 428.6,292.3 428.6,293.1 428.6,293.9 428.6,294.7 428.6,295.5 428.6,296.3 428.7,297.1 428.7,297.9 428.7,298.7 428.7,299.5 428.7,300.3 428.7,301.1 428.7,301.9 428.7,302.7 428.8,303.5 428.8,304.3 428.8,305.1 428.8,305.9 428.8,306.7 428.8,307.5 428.8,308.3 428.9,309.1 428.9,309.9 428.9,310.7 428.9,311.5 428.9,312.3 428.9,313.1 428.9,313.9 429.0,314.7 429.0,315.5 429.0,316.3 429.0,317.1 429.0,317.9 429.0,318.7 429.1,319.5 429.1,320.3 429.1,321.1 429.1,321.9 429.1,322.7 429.2,323.5 429.2,324.3 429.2,325.1 429.2,325.9 429.2,326.7 429.3,327.5 429.3,328.3 429.3,329.1 429.3,329.9 429.4,330.7 429.4,331.5 429.4,332.3 429.4,333.1 429.5,333.9 429.5,334.7 429.5,335.5 429.5,336.3 429.6,337.1 429.6,337.9 429.6,338.7 429.7,339.5 429.7,340.3 429.7,341.1 429.8,341.9 429.8,342.7 429.8,343.5 429.9,344.2 429.9,345.0 430.0,345.8 430.0,346.6 430.1,347.4 430.1,348.2 430.2,349.0 430.2,349.8 430.3,350.6 430.3,351.4 430.4,352.2 430.5,353.0 430.5,353.8 430.7,354.6 430.8,355.4 431.0,356.2 431.2,357.1 431.6,357.8 432.1,358.1 432.9,358.4 433.8,358.4 434.5,358.4 435.3,358.4 436.1,358.4 436.9,358.4 437.7,358.4 438.5,358.4 439.3,358.4 440.1,358.4 440.9,358.4 441.7,358.4 442.5,358.4 443.3,358.4 444.1,358.4 444.9,358.4 445.7,358.4 446.5,358.4 447.3,358.4 448.1,358.4 449.0,358.4 449.4,358.4"/>
<polyline stroke-width="2.5" points="37.5,326.7 38.3,326.4 39.1,327.0 39.9,327.4 40.7,327.8 41.5,327.2 42.3,326.7 43.1,326.6 43.9,327.5 44.7,328.0 45.5,327.2 46.3,326.2 47.1,326.4 47.9,327.9 48.7,327.0 49.5,325.8 50.3,326.8 51.1,326.1 51.9,326.4 52.7,326.5 53.5,326.3 54.3,327.1 55.1,326.7 55.9,326.4 56.7,326.9 57.5,327.2 58.3,325.7 59.1,326.5 59.9,326.0 60.7,326.5 61.5,325.8 62.3,326.5 63.1,326.5 63.9,326.3 64.7,325.8 65.5,326.2 66.3,325.8 67.1,325.6 67.9,326.5 68.7,325.7 69.5,327.0 70.3,326.7 71.1,325.1 71.9,326.4 72.7,325.6 73.5,326.2 74.3,326.2 75.1,324.9 75.9,326.0 76.7,325.9 77.5,326.6 78.3,325.3 79.1,326.5 79.9,325.3 80.7,325.8 81.5,325.4 82.3,326.8 83.1,326.2 83.9,327.3 84.7,326.2 85.5,326.3 86.3,326.3 87.1,325.4 87.9,325.7 88.7,326.5 89.5,325.5 90.3,325.8 91.1,325.6 91.9,326.0 92.7,325.4 93.5,325.5 94.3,325.7 95.1,325.6 95.9,325.0 96.7,326.0 97.5,324.7 98.3,324.7 99.1,324.6 99.9,325.9 100.7,325.1 101.5,324.7 102.3,324.6 103.1,325.5 103.9,324.6 104.7,324.4 105.5,325.5 106.3,324.4 107.1,324.9 107.9,325.1 108.7,324.8 109.5,325.0 110.3,325.8 111.1,324.7 111.9,324.2 112.7,323.8 113.5,324.8 114.3,324.7 115.1,325.0 115.9,324.5 116.7,324.5 117.5,324.3 118.3,324.4 119.1,324.8 119.9,324.4 120.7,324.7 121.5,325.7 122.3,324.9 123.1,323.6 123.9,325.6 124.7,324.7 125.5,323.9 126.3,325.0 127.1,324.4 127.9,324.0 128.7,323.9 129.5,323.7 130.3,324.3 131.1,324.9 131.9,324.0 132.7,324.4 133.5,325.2 134.2,323.4 135.0,324.2 135.8,323.8 136.6,323.3 137.4,323.3 138.2,323.9 139.0,324.1 139.8,323.5 140.6,323.8 141.4,324.2 142.2,323.9 143.0,324.2 143.8,323.9 144.6,323.9 145.4,324.6 146.2,323.9 147.0,323.5 147.8,323.8 148.6,322.8 149.4,323.1 150.2,323.7 151.0,323.6 151.8,324.1 152.6,323.1 153.4,322.2 154.2,324.2 155.0,323.6 155.8,322.3 156.6,323.7 157.4,322.8 158.2,321.7 159.0,322.5 159.8,322.4 160.6,323.6 161.4,322.1 162.2,322.4 163.0,322.3 163.8,322.2 164.6,321.8 165.4,322.4 166.2,322.9 167.0,322.6 167.8,321.6 168.6,321.4 169.4,322.1 170.2,321.6 171.0,321.5 171.8,320.9 172.6,323.0 173.4,322.3 174.2,321.1 175.0,322.2 175.8,322.4 176.6,320.1 177.4,321.2 178.2,321.2 179.0,321.8 179.8,321.2 180.6,321.1 181.4,321.2 182.2,322.3 183.0,322.4 183.8,320.7 184.6,320.4 185.4,322.5 186.1,320.3 186.9,320.5 187.7,320.8 188.5,321.0 189.3,321.3 190.1,320.8 190.9,320.0 191.7,320.8 192.5,320.6 193.3,321.5 194.1,320.3 194.9,319.4 195.7,319.5 196.5,321.0 197.3,319.7 198.1,318.7 198.9,319.6 199.7,319.9 200.5,320.5 201.3,319.1 202.1,320.1 202.9,320.1 203.7,319.1 204.5,319.4 205.3,320.5 206.1,320.4 206.9,319.8 207.7,319.5 208.5,319.9 209.3,319.0 210.1,319.0 210.9,318.5 211.7,318.9 212.5,318.8 213.3,320.5 214.1,318.6 214.9,319.4 215.7,319.4 216.5,318.4 217.3,319.2 218.1,317.1 218.9,318.4 219.7,318.8 220.4,316.8 221.2,317.5 222.0,318.7 222.8,317.9 223.6,317.3 224.4,317.7 225.2,317.5 226.0,318.2 226.8,318.0 227.6,317.5 228.4,317.2 229.2,317.5 230.0,318.2 230.8,317.6 231.6,317.7 232.4,317.1 233.2,316.4 234.0,316.7 234.8,317.4 235.6,317.0 236.4,316.4 237.2,315.9 238.0,316.8 238.8,316.5 239.6,316.4 240.4,316.4 241.2,316.7 242.0,316.6 242.8,316.9 243.6,316.8 244.4,317.0 245.2,316.6 246.0,315.9 246.8,316.0 247.6,316.2 248.3,315.7 249.1,316.1 249.9,316.4 250.7,315.2 251.5,314.5 252.3,316.2 253.1,315.5 253.9,315.8 254.7,314.5 255.5,316.3 256.3,315.6 257.1,315.0 257.9,314.8 258.7,315.0 259.5,314.8 260.3,314.6 261.1,314.1 261.9,315.4 262.7,314.6 263.5,314.6 264.3,314.5 265.1,313.0 265.9,314.6 266.7,314.0 267.5,314.0 268.3,314.1 269.1,313.4 269.9,314.4 270.7,313.4 271.5,313.2 272.3,313.2 273.0,313.7 273.8,314.0 274.6,313.1 275.4,312.5 276.2,314.0 277.0,312.6 277.8,313.9 278.6,313.1 279.4,312.6 280.2,312.6 281.0,313.2 281.8,313.4 282.6,312.6 283.4,313.3 284.2,313.9 285.0,312.4 285.8,311.8 286.6,311.8 287.4,311.5 288.2,311.9 289.0,311.8 289.8,311.3 290.6,312.4 291.4,310.4 292.2,311.1 293.0,313.1 293.8,312.4 294.6,312.0 295.4,311.9 296.2,312.6 297.0,311.8 297.8,311.5 298.6,310.6 299.4,311.2 300.1,310.8 300.9,310.7 301.7,310.6 302.5,311.0 303.3,310.7 304.1,311.4 304.9,310.0 305.7,310.6 306.5,311.7 307.3,310.5 308.1,311.2 308.9,311.0 309.7,311.1 310.5,310.6 311.3,309.3 312.1,309.9 312.9,309.7 313.7,308.9 314.5,309.5 315.3,308.9 316.1,308.6 316.9,309.6 317.7,309.4 318.4,308.9 319.2,308.6 320.0,308.8 320.8,308.8 321.6,308.6 322.4,308.7 323.2,308.4 324.0,308.8 324.8,308.7 325.6,308.5 326.4,307.8 327.1,307.7 327.9,308.2 328.7,307.6 329.5,307.6 330.3,306.0 331.1,305.7 331.9,307.4 332.7,307.3 333.5,307.8 334.2,307.2 335.0,306.8 335.8,306.5 336.6,305.6 337.4,306.8 338.2,305.8 339.0,306.3 339.8,306.0 340.6,305.9 341.3,306.1 342.1,305.2 342.9,305.1 343.7,304.7 344.5,304.9 345.3,305.8 346.1,304.6 346.9,305.3 347.7,305.0 348.4,304.8 349.2,304.6 350.0,303.6 350.8,304.1 351.6,304.6 352.4,303.3 353.2,303.4 353.9,303.0 354.7,303.3 355.5,302.4 356.3,303.6 357.1,302.5 357.8,301.7 358.6,303.1 359.4,302.6 360.2,302.2 361.0,302.0 361.8,301.4 362.5,301.3 363.3,301.5 364.1,301.4 364.9,301.2 365.6,300.7 366.4,300.2 367.2,300.1 368.0,300.5 368.7,300.4 369.5,299.4 370.3,299.2 371.0,299.7 371.8,299.2 372.6,299.0 373.3,297.9 374.1,298.0 374.9,297.7 375.6,297.8 376.4,296.8 377.1,297.7 377.9,297.1 378.7,296.9 379.4,296.0 380.2,296.2 380.9,296.5 381.7,295.2 382.5,295.6 383.2,295.5 384.0,294.8 384.8,295.1 385.5,294.5 386.3,294.8 387.1,294.3 387.9,294.0 388.7,294.4 389.4,293.8 390.2,293.8 391.0,292.7 391.8,292.7 392.5,292.9 393.3,292.7 394.1,292.2 394.8,292.2 395.6,291.4 396.4,291.6 397.1,290.9 397.9,291.1 398.6,290.6 399.3,290.3 400.1,290.2 400.8,290.4 401.5,289.3 402.2,289.1 403.0,289.1 403.7,288.4 404.4,288.6 405.1,287.8 405.8,287.4 406.5,287.1 407.2,286.9 407.9,286.3 408.6,285.8 409.3,285.4 409.9,284.7 410.6,284.3 411.3,284.2 412.0,283.7 412.7,283.2 413.3,282.8 414.0,282.3 414.7,281.9 415.4,281.4 416.0,281.0 416.7,280.5 417.4,280.1 418.1,279.7 418.7,279.2 419.4,278.8 420.1,278.4 420.7,277.9 421.4,277.4 422.0,277.0 422.7,276.5 423.3,276.0 424.0,275.5 424.6,275.0 425.2,274.5 425.8,274.0 426.4,273.5 427.0,273.0 427.6,272.5 428.2,271.9 428.8,271.4 429.3,270.8 429.9,270.2 430.5,269.7 431.0,269.1 431.5,268.5 432.1,267.9 432.6,267.3 433.1,266.7 433.7,266.0 434.2,265.4 434.7,264.8 435.2,264.2 435.7,263.6 436.2,262.9 436.6,262.3 437.1,261.6 437.6,261.0 438.0,260.3 438.5,259.7 438.9,259.0 439.4,258.4 439.8,257.7 440.3,257.0 440.7,256.4 441.2,255.7 441.6,255.0 442.1,254.4 442.5,253.7 443.0,253.0 443.4,252.4 443.8,251.7 444.3,251.0 444.7,250.3 445.1,249.7 445.6,249.0 445.9,248.3 446.3,247.6 446.7,246.9 447.0,246.2 447.4,245.4 447.7,244.7 448.0,244.0 448.4,243.3 448.7,242.5 449.0,241.8 449.3,241.0 449.6,240.3 449.9,239.6 450.2,238.8 450.5,238.1 450.8,237.3 451.1,236.5 451.3,235.8 451.6,235.0 451.9,234.3 452.1,233.5 452.4,232.8 452.6,232.0 452.8,231.2 453.1,230.5 453.3,229.7 453.5,228.9 453.7,228.2 453.9,227.4 454.1,226.6 454.3,225.9 454.5,225.1 454.7,224.3 454.9,223.5 455.1,222.7 455.2,222.0 455.4,221.2 455.6,220.4 455.8,219.6 456.0,218.8 456.2,218.1 456.4,217.3 456.5,216.5 456.7,215.7 457.0,214.9 457.2,214.2 457.4,213.4 457.6,212.6 457.8,211.9 458.0,211.1 458.2,210.3 458.4,209.5 458.7,208.8 458.9,208.0 459.1,207.2 459.3,206.5 459.5,205.7 459.7,204.9 459.9,204.1 460.1,203.4 460.3,202.6 460.4,201.8 460.6,201.0 460.8,200.2 461.0,199.5 461.1,198.7 461.3,197.9 461.5,197.1 461.6,196.3 461.8,195.5 462.0,194.8 462.1,194.0 462.3,193.2 462.4,192.4 462.6,191.6 462.7,190.8 462.8,190.0 463.0,189.2 463.1,188.5 463.2,187.7 463.3,186.9 463.4,186.1 463.5,185.3 463.6,184.5 463.7,183.7 463.8,182.9 463.9,182.1 463.9,181.3 464.0,180.5 464.1,179.7 464.2,178.9 464.2,178.1 464.3,177.3 464.4,176.5 464.5,175.7 464.5,174.9 464.6,174.1 464.7,173.3 464.7,172.5 464.8,171.7 464.9,171.0 464.9,170.2 465.0,169.4 465.0,168.6 465.1,167.8 465.2,167.0 465.2,166.2 465.3,165.4 465.3,164.6 465.4,163.8 465.5,163.0 465.5,162.2 465.6,161.4 465.6,160.6 465.7,159.8 465.7,159.0 465.8,158.2 465.8,157.4 465.9,156.6 465.9,155.8 466.0,155.0 466.0,154.2 466.0,153.4 466.1,152.6 466.1,151.8 466.2,151.0 466.2,150.2 466.3,149.4 466.3,148.6 466.3,147.8 466.4,147.0 466.4,146.2 466.5,145.4 466.5,144.6 466.5,143.8 466.6,143.0 466.6,142.2 466.6,141.4 466.7,140.6 466.7,139.8 466.7,139.0 466.8,138.2 466.8,137.4 466.8,136.6 466.9,135.8 466.9,135.0 466.9,134.2 467.0,133.4 467.0,132.6 467.0,131.8 467.0,131.0 467.1,130.2 467.1,129.4 467.1,128.6 467.2,127.8 467.2,127.0 467.2,126.2 467.2,125.4 467.3,124.6 467.3,123.8 467.3,123.0 467.3,122.2 467.4,121.4 467.4,120.6 467.4,119.8 467.4,119.0 467.5,118.2 467.5,117.4 467.5,116.6 467.5,115.8 467.6,115.0 467.6,114.2 467.6,113.4 467.6,112.6 467.7,111.8 467.7,111.0 467.7,110.2 467.7,109.4 467.7,108.6 467.8,107.8 467.8,107.0 467.8,106.2 467.8,105.4 467.9,104.6 467.9,103.8 467.9,103.0 467.9,102.2 468.0,101.4 468.0,100.6 468.0,99.8 468.0,99.0 468.1,98.2 468.1,97.4 468.1,96.6 468.1,95.8 468.1,95.0 468.2,94.2 468.2,93.4 468.2,92.6 468.2,91.8 468.2,91.0 468.3,90.2 468.3,89.4 468.3,88.6 468.3,87.8 468.3,87.0 468.4,86.2 468.4,85.4 468.4,84.6 468.4,83.8 468.4,83.0 468.5,82.2 468.5,81.4 468.5,80.6 468.5,79.8 468.5,79.0 468.6,78.2 468.6,77.4 468.6,76.6 468.6,75.8 468.6,75.0 468.7,74.2 468.7,73.4 468.7,72.6 468.7,71.8 468.8,71.0 468.8,70.2 468.8,69.4 468.8,68.6 468.9,67.8 468.9,67.0 468.9,66.2 469.0,65.4 469.0,64.6 469.0,63.8 469.0,63.0 469.1,62.2 469.1,61.4 469.1,60.6 469.2,59.8 469.2,59.0 469.2,58.2 469.3,57.4 469.3,56.6 469.3,55.8 469.3,55.0 469.4,54.2 469.4,53.5 469.4,52.7 469.5,51.9 469.5,51.1 469.5,50.3 469.6,49.5 469.6,48.7 469.6,47.9 469.7,47.1 469.7,46.3 469.8,45.5 469.8,44.7 469.8,43.9 469.9,43.1 469.9,42.3 469.9,41.5 470.0,40.7 470.0,40.3 470.0,41.1 470.1,41.9 470.1,42.7 470.2,43.5 470.2,44.3 470.2,45.1 470.3,45.9 470.3,46.7 470.3,47.5 470.4,48.3 470.4,49.1 470.4,49.9 470.5,50.7 470.5,51.5 470.5,52.3 470.5,53.1 470.5,53.9 470.6,54.7 470.6,55.5 470.6,56.3 470.6,57.1 470.7,57.9 470.7,58.7 470.7,59.5 470.7,60.3 470.7,61.1 470.7,61.9 470.8,62.7 470.8,63.5 470.8,64.3 470.8,65.1 470.8,65.9 470.8,66.7 470.9,67.5 470.9,68.3 470.9,69.1 470.9,69.9 470.9,70.7 470.9,71.5 470.9,72.3 471.0,73.1 471.0,73.9 471.0,74.7 471.0,75.5 471.0,76.3 471.0,77.1 471.0,77.9 471.0,78.7 471.0,79.5 471.1,80.3 471.1,81.1 471.1,81.9 471.1,82.7 471.1,83.5 471.1,84.3 471.1,85.1 471.1,85.9 471.1,86.7 471.1,87.5 471.2,88.3 471.2,89.1 471.2,89.9 471.2,90.7 471.2,91.5 471.2,92.3 471.2,93.1 471.2,93.9 471.2,94.7 471.2,95.5 471.2,96.3 471.2,97.1 471.2,97.9 471.3,98.7 471.3,99.5 471.3,100.3 471.3,101.1 471.3,101.9 471.3,102.7 471.3,103.5 471.3,104.3 471.3,105.1 471.3,105.9 471.3,106.7 471.3,107.5 471.3,108.3 471.3,109.1 471.3,109.9 471.4,110.7 471.4,111.5 471.4,112.3 471.4,113.1 471.4,113.9 471.4,114.7 471.4,115.5 471.4,116.3 471.4,117.1 471.4,117.9 471.4,118.7 471.4,119.5 471.4,120.3 471.4,121.1 471.4,121.9 471.4,122.7 471.5,123.5 471.5,124.3 471.5,125.1 471.5,125.9 471.5,126.7 471.5,127.5 471.5,128.3 471.5,129.1 471.5,129.9 471.5,130.7 471.5,131.5 471.5,132.3 471.5,133.1 471.5,133.9 471.5,134.7 471.6,135.5 471.6,136.3 471.6,137.1 471.6,137.9 471.6,138.7 471.6,139.5 471.6,140.3 471.6,141.1 471.6,141.9 471.6,142.7 471.6,143.5 471.6,144.3 471.7,145.1 471.7,145.9 471.7,146.7 471.7,147.5 471.7,148.3 471.7,149.1 471.7,149.9 471.7,150.7 471.7,151.5 471.7,152.3 471.7,153.1 471.7,153.9 471.7,154.7 471.8,155.5 471.8,156.3 471.8,157.1 471.8,157.9 471.8,158.7 471.8,159.5 471.8,160.3 471.8,161.1 471.8,161.9 471.8,162.7 471.8,163.5 471.8,164.3 471.9,165.1 471.9,165.9 471.9,166.7 471.9,167.5 471.9,168.3 471.9,169.1 471.9,169.9 471.9,170.7 471.9,171.5 471.9,172.3 471.9,173.1 471.9,173.9 472.0,174.7 472.0,175.5 472.0,176.3 472.0,177.1 472.0,177.9 472.0,178.7 472.0,179.5 472.0,180.3 472.0,181.1 472.0,181.9 472.0,182.7 472.1,183.5 472.1,184.3 472.1,185.1 472.1,185.9 472.1,186.7 472.1,187.5 472.1,188.3 472.1,189.1 472.1,189.9 472.1,190.7 472.1,191.5 472.2,192.3 472.2,193.1 472.2,193.9 472.2,194.7 472.2,195.5 472.2,196.3 472.2,197.1 472.2,197.9 472.2,198.7 472.2,199.5 472.3,200.3 472.3,201.1 472.3,201.9 472.3,202.7 472.3,203.5 472.3,204.3 472.3,205.1 472.3,205.9 472.3,206.7 472.3,207.5 472.4,208.3 472.4,209.1 472.4,209.9 472.4,210.7 472.4,211.5 472.4,212.3 472.4,213.1 472.4,213.9 472.5,214.7 472.5,215.5 472.5,216.3 472.5,217.1 472.5,217.9 472.5,218.7 472.5,219.5 472.6,220.3 472.6,221.1 472.6,221.9 472.6,222.7 472.6,223.5 472.6,224.3 472.6,225.1 472.6,225.9 472.7,226.7 472.7,227.5 472.7,228.3 472.7,229.1 472.7,229.9 472.7,230.7 472.7,231.5 472.7,232.3 472.7,233.1 472.8,233.9 472.8,234.7 472.8,235.5 472.8,236.3 472.8,237.1 472.8,237.9 472.8,238.7 472.8,239.5 472.8,240.3 472.8,241.1 472.9,241.9 472.9,242.7 472.9,243.5 472.9,244.3 472.9,245.1 472.9,245.9 472.9,246.7 472.9,247.5 472.9,248.3 472.9,249.1 472.9,249.9 473.0,250.7 473.0,251.5 473.0,252.3 473.0,253.1 473.0,253.9 473.0,254.7 473.0,255.5 473.0,256.3 473.0,257.1 473.0,257.9 473.1,258.7 473.1,259.5 473.1,260.3 473.1,261.1 473.1,261.9 473.1,262.7 473.1,263.5 473.1,264.3 473.1,265.1 473.2,265.9 473.2,266.7 473.2,267.5 473.2,268.3 473.2,269.1 473.2,269.9 473.2,270.7 473.2,271.5 473.2,272.3 473.3,273.1 473.3,273.9 473.3,274.7 473.3,275.5 473.3,276.3 473.3,277.1 473.3,277.9 473.3,278.7 473.4,279.5 473.4,280.3 473.4,281.1 473.4,281.9 473.4,282.7 473.4,283.5 473.4,284.3 473.4,285.1 473.5,285.9 473.5,286.7 473.5,287.5 473.5,288.3 473.5,289.1 473.5,289.9 473.5,290.7 473.6,291.5 473.6,292.3 473.6,293.1 473.6,293.9 473.6,294.7 473.6,295.5 473.6,296.3 473.6,297.1 473.7,297.9 473.7,298.7 473.7,299.5 473.7,300.3 473.7,301.1 473.7,301.9 473.7,302.7 473.8,303.5 473.8,304.3 473.8,305.1 473.8,305.9 473.8,306.7 473.8,307.5 473.8,308.3 473.9,309.1 473.9,309.9 473.9,310.7 473.9,311.5 473.9,312.3 473.9,313.1 473.9,313.9 474.0,314.7 474.0,315.5 474.0,316.3 474.0,317.1 474.0,317.9 474.0,318.7 474.0,319.5 474.1,320.3 474.1,321.1 474.1,321.9 474.1,322.7 474.1,323.5 474.1,324.3 474.2,325.1 474.2,325.9 474.2,326.7 474.2,327.5 474.3,328.3 474.3,329.1 474.3,329.9 474.3,330.7 474.3,331.5 474.4,332.3 474.4,333.1 474.4,333.9 474.5,334.7 474.5,335.5 474.5,336.3 474.5,337.1 474.6,337.9 474.6,338.7 474.7,339.5 474.7,340.3 474.7,341.1 474.8,341.9 474.8,342.7 474.9,343.5 474.9,344.3 475.0,345.1 475.0,345.9 475.1,346.7 475.1,347.4 475.2,348.2 475.2,349.0 475.3,349.8 475.4,350.6 475.4,351.4 475.5,352.2 475.6,353.0 475.7,353.8 475.8,354.6 476.0,355.4 476.2,356.2 476.4,357.1 476.8,357.8 477.3,358.1 478.1,358.3 479.0,358.4 479.7,358.4 480.5,358.4 481.3,358.4 482.1,358.4 482.9,358.4 483.7,358.4 484.5,358.4 485.3,358.4 486.1,358.4 486.9,358.4 487.7,358.4 488.5,358.4 489.3,358.4 490.1,358.4 490.9,358.4 491.7,358.4 492.5,358.4 493.3,358.4 494.1,358.4 494.9,358.4 495.7,358.4 496.5,358.4 497.2,358.4"/>
</g>
<!-- axes -->
<g fill="none" stroke="#3c3c3c" stroke-width="1.1">
<rect x="37.5" y="6.5" width="463.5" height="354.0"/>
</g>
<g fill="none" stroke="#555" stroke-width="0.85">
<path d="M89.00 360.5V355.9M89.00 6.5V11.1"/>
<path d="M140.50 360.5V355.9M140.50 6.5V11.1"/>
<path d="M192.00 360.5V355.9M192.00 6.5V11.1"/>
<path d="M243.50 360.5V355.9M243.50 6.5V11.1"/>
<path d="M295.00 360.5V355.9M295.00 6.5V11.1"/>
<path d="M346.50 360.5V355.9M346.50 6.5V11.1"/>
<path d="M398.00 360.5V355.9M398.00 6.5V11.1"/>
<path d="M449.50 360.5V355.9M449.50 6.5V11.1"/>
<path d="M37.5 325.10H42.1M501.0 325.10H496.4"/>
<path d="M37.5 289.70H42.1M501.0 289.70H496.4"/>
<path d="M37.5 254.30H42.1M501.0 254.30H496.4"/>
<path d="M37.5 218.90H42.1M501.0 218.90H496.4"/>
<path d="M37.5 183.50H42.1M501.0 183.50H496.4"/>
<path d="M37.5 148.10H42.1M501.0 148.10H496.4"/>
<path d="M37.5 112.70H42.1M501.0 112.70H496.4"/>
<path d="M37.5 77.30H42.1M501.0 77.30H496.4"/>
<path d="M37.5 41.90H42.1M501.0 41.90H496.4"/>
</g>
<g class="t">
<text transform="translate(37.50 376.4) scale(1 1.07)" text-anchor="middle">0</text>
<text transform="translate(89.00 376.4) scale(1 1.07)" text-anchor="middle">0.2</text>
<text transform="translate(140.50 376.4) scale(1 1.07)" text-anchor="middle">0.4</text>
<text transform="translate(192.00 376.4) scale(1 1.07)" text-anchor="middle">0.6</text>
<text transform="translate(243.50 376.4) scale(1 1.07)" text-anchor="middle">0.8</text>
<text transform="translate(295.00 376.4) scale(1 1.07)" text-anchor="middle">1.0</text>
<text transform="translate(346.50 376.4) scale(1 1.07)" text-anchor="middle">1.2</text>
<text transform="translate(398.00 376.4) scale(1 1.07)" text-anchor="middle">1.4</text>
<text transform="translate(449.50 376.4) scale(1 1.07)" text-anchor="middle">1.6</text>
<text transform="translate(501.00 376.4) scale(1 1.07)" text-anchor="middle">1.8</text>
<text transform="translate(34.7 365.80) scale(1 1.07)" text-anchor="end">0</text>
<text transform="translate(34.7 330.40) scale(1 1.07)" text-anchor="end">1</text>
<text transform="translate(34.7 295.00) scale(1 1.07)" text-anchor="end">2</text>
<text transform="translate(34.7 259.60) scale(1 1.07)" text-anchor="end">3</text>
<text transform="translate(34.7 224.20) scale(1 1.07)" text-anchor="end">4</text>
<text transform="translate(34.7 188.80) scale(1 1.07)" text-anchor="end">5</text>
<text transform="translate(34.7 153.40) scale(1 1.07)" text-anchor="end">6</text>
<text transform="translate(34.7 118.00) scale(1 1.07)" text-anchor="end">7</text>
<text transform="translate(34.7 82.60) scale(1 1.07)" text-anchor="end">8</text>
<text transform="translate(34.7 47.20) scale(1 1.07)" text-anchor="end">9</text>
<text transform="translate(34.7 11.80) scale(1 1.07)" text-anchor="end">10</text>
</g>
<!-- legend -->
<g fill="none" stroke="#000" stroke-width="2.4">
<path d="M49.6 23.4H83.3" stroke-dasharray="6.7 6.8"/>
<path d="M49.6 41.7H83.3"/>
</g>
<text class="b" x="87.6" y="29">Cut threshold: 10<tspan dy="-8" font-size="9.8">7</tspan><tspan dy="8"> mm</tspan></text>
<text class="b" x="87.6" y="46.6">Cut threshold: 0.1 mm</text>
<!-- annotations -->
<text class="b" x="345" y="180.6">Graphite</text>
<text class="b" x="294" y="209.4">Water</text>
<path d="M321.3 218.9L371.6 265.1" stroke="#1a1a1a" stroke-width="0.9" fill="none"/><path d="M377.2 270.2L366.1 266.0L371.6 265.1L372.1 259.5Z" fill="#000"/>
<path d="M387.5 186.5L438.0 231.7" stroke="#1a1a1a" stroke-width="0.9" fill="none"/><path d="M443.7 236.8L432.6 232.7L438.0 231.7L438.4 226.2Z" fill="#000"/>
<!-- axis labels -->
<text class="b" x="221" y="394.6" font-size="14">z<tspan dy="6.6" font-size="10">w</tspan><tspan dy="-6.6"> or z</tspan><tspan dy="6.6" font-size="10">g</tspan><tspan dy="-6.6"> [g/cm</tspan><tspan dy="-5.8" font-size="10">2</tspan><tspan dy="5.8">]</tspan></text>
<text class="b" transform="translate(11.1 183.6) rotate(-90)" text-anchor="middle" font-size="13.4">Normalised absorbed dose</text>
</svg>
</body>
</html>
